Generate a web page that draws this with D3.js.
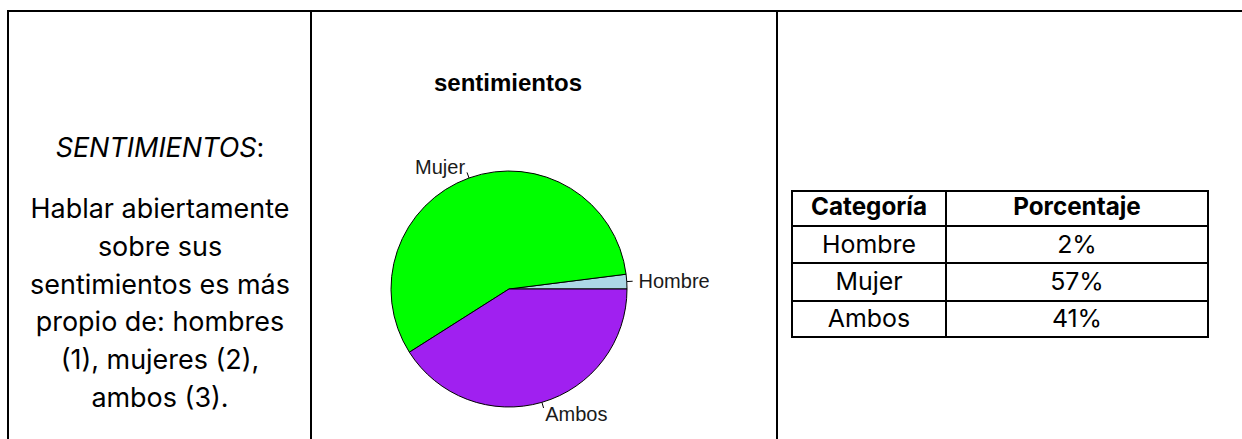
<!DOCTYPE html>
<html>
<head>
<meta charset="utf-8">
<script src="https://cdn.jsdelivr.net/npm/d3@7"></script>
<style>
  body { margin: 0; background: #fff; }
  svg { display: block; }
</style>
</head>
<body>
<div id="chart"></div>
<script>
// Data
var categories = ["Hombre", "Mujer", "Ambos"];
var values = [2, 57, 41];
var sliceColors = ["#ADD8E6", "#00FF00", "#A020F0"];
var tableHeaders = ["Categoría", "Porcentaje"];
var tableValues = ["2%", "57%", "41%"];
var chartTitle = "sentimientos";
var questionTitle = "SENTIMIENTOS";
var questionLines = ["Hablar abiertamente", "sobre sus", "sentimientos es más",
                     "propio de: hombres", "(1), mujeres (2),", "ambos (3)."];

var W = 1242, H = 439;
var svg = d3.select("#chart").append("svg")
  .attr("width", W).attr("height", H);

var textFont = "Inter, 'Noto Sans', sans-serif";

// font size that makes a string a given width (the doc font is wider than ours)
function fitSize(str, target, weight) {
  var t = svg.append("text").attr("font-family", textFont)
    .attr("font-size", 100).attr("font-weight", weight || "normal").text(str);
  var len = t.node().getComputedTextLength();
  t.remove();
  return 100 * target / len;
}

// Frame of the document table
var frame = svg.append("g").attr("stroke", "#000").attr("stroke-width", 2);
frame.append("line").attr("x1", 8).attr("x2", W).attr("y1", 11).attr("y2", 11);
[8, 311, 777].forEach(function(x) {
  frame.append("line").attr("x1", x).attr("x2", x).attr("y1", 10).attr("y2", H);
});

// Left cell: question text
var leftSize = fitSize(questionLines[0], 259);
var left = svg.append("g").attr("font-family", textFont).attr("font-size", leftSize)
  .attr("fill", "#000").attr("text-anchor", "middle");
var q = left.append("text").attr("x", 160).attr("y", 157);
q.append("tspan").attr("font-style", "italic").text(questionTitle);
q.append("tspan").text(":");
left.selectAll("text.line").data(questionLines).enter()
  .append("text").attr("class", "line")
  .attr("x", 160)
  .attr("y", function(d, i) { return 218 + i * 37.8; })
  .text(function(d) { return d; });

// Middle cell: pie chart (R style, counter-clockwise from 3 o'clock)
var cx = 509, cy = 289, r = 118;
var pieG = svg.append("g").attr("transform", "translate(" + cx + "," + cy + ")");

var pie = d3.pie().sort(null)
  .startAngle(Math.PI / 2)
  .endAngle(Math.PI / 2 - 2 * Math.PI);
var arcs = pie(values);
var arc = d3.arc().innerRadius(0).outerRadius(r);

pieG.selectAll("path").data(arcs).enter().append("path")
  .attr("d", arc)
  .attr("fill", function(d, i) { return sliceColors[i]; })
  .attr("stroke", "#000").attr("stroke-width", 1);

function midAngle(d) { return (d.startAngle + d.endAngle) / 2; }

pieG.selectAll("line.tick").data(arcs).enter().append("line")
  .attr("class", "tick")
  .attr("x1", function(d) { return Math.sin(midAngle(d)) * r; })
  .attr("y1", function(d) { return -Math.cos(midAngle(d)) * r; })
  .attr("x2", function(d) { return Math.sin(midAngle(d)) * r * 1.05; })
  .attr("y2", function(d) { return -Math.cos(midAngle(d)) * r * 1.05; })
  .attr("stroke", "#000").attr("stroke-width", 1);

pieG.selectAll("text.lab").data(arcs).enter().append("text")
  .attr("class", "lab")
  .attr("font-family", "'Liberation Sans', Arial, sans-serif")
  .attr("font-size", 20)
  .attr("fill", "#1a1a1a")
  .attr("x", function(d) { return Math.sin(midAngle(d)) * r * 1.1; })
  .attr("y", function(d) { return -Math.cos(midAngle(d)) * r * 1.1 + 7; })
  .attr("text-anchor", function(d) { return Math.sin(midAngle(d)) > 0 ? "start" : "end"; })
  .text(function(d, i) { return categories[i]; });

svg.append("text")
  .attr("x", 508).attr("y", 91)
  .attr("text-anchor", "middle")
  .attr("font-family", "'Liberation Sans', Arial, sans-serif")
  .attr("font-weight", "bold").attr("font-size", 24)
  .text(chartTitle);

// Right cell: summary table
var tx0 = 792, tx1 = 946, tx2 = 1208;
var rowY = [191, 226, 263, 301, 337];
var tbl = svg.append("g");
var grid = tbl.append("g").attr("stroke", "#000").attr("stroke-width", 2);
rowY.forEach(function(y) {
  grid.append("line").attr("x1", tx0 - 1).attr("x2", tx2 + 1).attr("y1", y).attr("y2", y);
});
[tx0, tx1, tx2].forEach(function(x) {
  grid.append("line").attr("x1", x).attr("x2", x).attr("y1", rowY[0]).attr("y2", rowY[4]);
});

var headSize = fitSize(tableHeaders[0], 116, "bold");
var cellSize = fitSize(categories[0], 94);
var rows = [tableHeaders].concat(categories.map(function(c, i) { return [c, tableValues[i]]; }));
var colX = [(tx0 + tx1) / 2, (tx1 + tx2) / 2];
var baseY = [215, 253, 290, 327];
rows.forEach(function(row, ri) {
  row.forEach(function(cell, ci) {
    tbl.append("text")
      .attr("x", colX[ci])
      .attr("y", baseY[ri])
      .attr("text-anchor", "middle")
      .attr("font-family", textFont)
      .attr("font-size", ri === 0 ? headSize : cellSize)
      .attr("font-weight", ri === 0 ? "bold" : "normal")
      .text(cell);
  });
});
</script>
</body>
</html>
